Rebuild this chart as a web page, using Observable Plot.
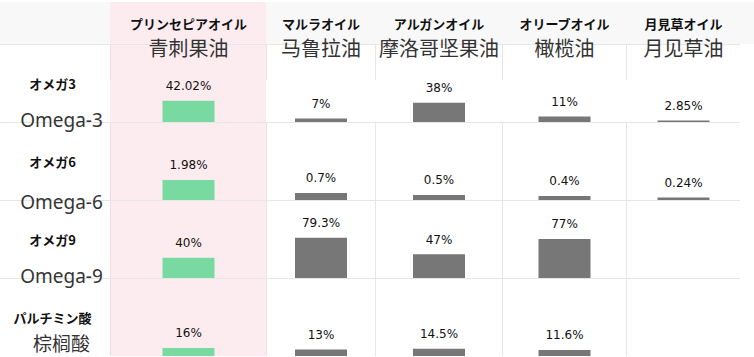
<!DOCTYPE html>
<html><head><meta charset="utf-8">
<script src="https://cdn.jsdelivr.net/npm/d3@7"></script>
<script src="https://cdn.jsdelivr.net/npm/@observablehq/plot@0.6"></script>
<style>
body{margin:0;background:#fff}
g[aria-label="pct"] text, g[aria-label="ja"] text {letter-spacing:1px}
</style>
</head><body><div id="chart"></div>
<script>
const oilsJa = ["プリンセピアオイル", "マルラオイル", "アルガンオイル", "オリーブオイル", "月見草オイル"];
const oilsZh = ["青刺果油", "马鲁拉油", "摩洛哥坚果油", "橄榄油", "月见草油"];
const acidsJa = ["オメガ3", "オメガ6", "オメガ9", "パルチミン酸"];
const acidsZh = ["Omega-3", "Omega-6", "Omega-9", "棕榈酸"];
const omega3 = [42.02, 7, 38, 11, 2.85];
const omega6 = [1.98, 0.7, 0.5, 0.4, 0.24];
const omega9 = [40, 79.3, 47, 77, null];
const palmitic = [16, 13, 14.5, 11.6, null];

// display magnification per row (the omega-6 row is drawn enlarged)
const rowZoom = [1, 20, 1, 1];
// vertical offset of the second row-label line (layout)
const subOffset = [76, 80, 76, 66];
const series = [omega3, omega6, omega9, palmitic];

const cells = [];
series.forEach((vals, r) => vals.forEach((v, i) => {
  if (v != null) cells.push({acid: acidsJa[r], col: i, v, h: v * rowZoom[r]});
}));
const cols = oilsJa.map((ja, i) => ({ja, zh: oilsZh[i], col: i}));
const rows = acidsJa.map((ja, r) => ({ja, zh: acidsZh[r], r}));
const TOP = 154;
const first = acidsJa[0];
const rest = acidsJa.slice(1);
const GREEN = "#78d9a1", GRAY = "#777777", LINE = "#e6e6e6", PINK = "#fdecef";
const HEAD = 42;

const plot = Plot.plot({
  width: 754, height: 357,
  marginTop: HEAD, marginBottom: 0, marginLeft: 0, marginRight: 0,
  x: {type: "linear", domain: [-1, 0, 1, 2, 3, 4, 5], range: [0, 110, 266, 375, 502, 626, 740], axis: null},
  y: {domain: [0, TOP], axis: null},
  fy: {domain: acidsJa, padding: 0, axis: null},
  marks: [
    // header background
    Plot.rect([0], {x1: () => -1, x2: () => 5.2, y1: () => TOP, y2: () => TOP, insetTop: -HEAD, fy: () => first, fill: "#f8f8f8"}),
    // highlighted column
    Plot.rect([0], {x1: () => 0, x2: () => 1, y1: () => 0, y2: () => TOP, insetTop: -HEAD, fy: () => first, fill: PINK}),
    Plot.rect(rest, {x1: () => 0, x2: () => 1, y1: () => 0, y2: () => TOP, fy: d => d, fill: PINK}),
    // vertical lines
    Plot.ruleX([1, 2, 3, 4], {x: d => d, y1: () => 0, y2: () => TOP, insetTop: -HEAD, fy: () => first, stroke: LINE}),
    Plot.ruleX(rest.flatMap(a => [1, 2, 3, 4].map(c => ({a, c}))), {x: "c", y1: () => 0, y2: () => TOP, fy: "a", stroke: LINE}),
    Plot.ruleX([0], {x: d => d, y1: () => 0, y2: () => TOP, insetTop: -HEAD, fy: () => first, stroke: "#f4dde2"}),
    Plot.ruleX(rest, {x: () => 0, y1: () => 0, y2: () => TOP, fy: d => d, stroke: "#f4dde2"}),
    // horizontal lines
    Plot.ruleY(acidsJa, {y: () => TOP, x1: () => -1, x2: () => 5, fy: d => d, stroke: LINE}),
    // bars
    Plot.ruleX(cells.filter(d => d.col === 0), {x: d => d.col + 0.5, y1: () => 0, y2: "h", fy: "acid", stroke: GREEN, strokeWidth: 52}),
    Plot.ruleX(cells.filter(d => d.col !== 0), {x: d => d.col + 0.5, y1: () => 0, y2: "h", fy: "acid", stroke: GRAY, strokeWidth: 52}),
    // value labels
    Plot.text(cells, {x: d => d.col + 0.5, y: "h", fy: "acid", text: d => d.v + "%", dy: -15,
      fontSize: 12, fontFamily: "DejaVu Sans", fill: "#111", ariaLabel: "pct"}),
    // column headers
    Plot.text(cols, {x: d => d.col + 0.5, y: () => TOP, fy: () => first, text: "ja", dy: -20,
      fontSize: 13, fontWeight: 700, fontFamily: "Noto Sans CJK JP", fill: "#111", ariaLabel: "ja"}),
    Plot.text(cols, {x: d => d.col + 0.5, y: () => TOP, fy: () => first, text: "zh", dy: 5,
      fontSize: 20, fontFamily: "Noto Sans CJK SC", fill: "#333"}),
    // row headers
    Plot.text(rows, {x: () => -0.5, y: () => TOP, fy: "ja", text: "ja", dy: 40, dx: -3,
      fontSize: 13, fontWeight: 700, fontFamily: "Noto Sans CJK JP", fill: "#111", ariaLabel: "ja"}),
    ...rows.map(row => Plot.text([row], {x: () => -0.5, y: () => TOP, fy: "ja", text: "zh", dy: subOffset[row.r], dx: 6,
      fontSize: 19, fontFamily: "Noto Sans, Noto Sans CJK SC", fill: "#333"}))
  ]
});
document.getElementById("chart").appendChild(plot);
</script>
</body></html>
